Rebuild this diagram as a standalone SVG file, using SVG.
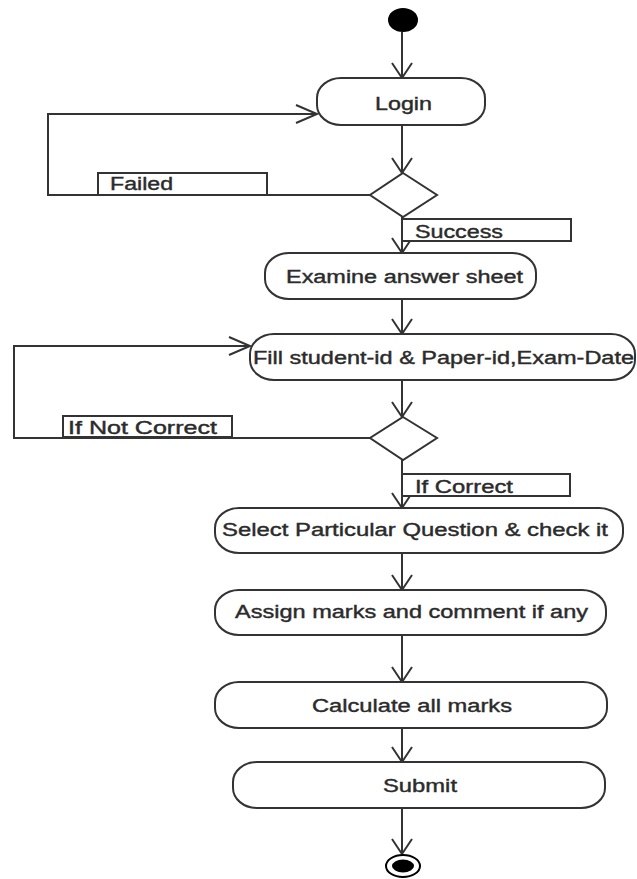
<svg xmlns="http://www.w3.org/2000/svg" width="637" height="879" viewBox="0 0 637 879">
  <style>
    .node { fill: #ffffff; stroke: #333333; stroke-width: 2; }
    .decision { fill: #ffffff; stroke: #333333; stroke-width: 2; }
    .label-box { fill: #ffffff; stroke: #333333; stroke-width: 2; }
    .txt { font-family: "Liberation Sans", Arial, sans-serif; font-size: 18px; fill: #2b2b2b; stroke: #2b2b2b; stroke-width: 0.4; }
    .flow { fill: none; stroke: #333333; stroke-width: 2; }
    .down { marker-end: url(#arrowV); }
    .side { marker-end: url(#arrowH); }
  </style>
  <defs>
    <marker id="arrowV" markerUnits="userSpaceOnUse" markerWidth="40" markerHeight="40" viewBox="-20 -20 40 40" refX="0" refY="0" orient="auto">
      <path d="M -15 -10 L 0 0 L -15 10" fill="none" stroke="#333333" stroke-width="2"/>
    </marker>
    <marker id="arrowH" markerUnits="userSpaceOnUse" markerWidth="50" markerHeight="40" viewBox="-25 -20 50 40" refX="0" refY="0" orient="auto">
      <path d="M -21 -9 L 0 0 L -21 9" fill="none" stroke="#333333" stroke-width="2"/>
    </marker>
  </defs>

  <rect width="637" height="879" fill="#ffffff"/>

  <!-- connectors -->
  <g id="connectors">
    <path class="flow down" d="M 402 32 L 402 78"/>
    <path class="flow down" d="M 402 125 L 402 173"/>
    <path class="flow side" d="M 370 195 L 48 195 L 48 114 L 317 114"/>
    <path class="flow down" d="M 402 217 L 402 253"/>
    <path class="flow down" d="M 402 299 L 402 334"/>
    <path class="flow down" d="M 402 380 L 402 417"/>
    <path class="flow side" d="M 370 438 L 14 438 L 14 346 L 250 346"/>
    <path class="flow down" d="M 402 460 L 402 508"/>
    <path class="flow down" d="M 402 553 L 402 590"/>
    <path class="flow down" d="M 402 635 L 402 682"/>
    <path class="flow down" d="M 402 728 L 402 762"/>
    <path class="flow down" d="M 402 808 L 402 854"/>

    <!-- guard labels -->
    <g id="guard-failed">
      <rect class="label-box" x="98" y="173" width="169" height="22"/>
      <text class="txt" x="110" y="190" textLength="63" lengthAdjust="spacingAndGlyphs">Failed</text>
    </g>
    <g id="guard-success">
      <rect class="label-box" x="402" y="219" width="169" height="22"/>
      <text class="txt" x="415" y="238" textLength="88" lengthAdjust="spacingAndGlyphs">Success</text>
    </g>
    <g id="guard-not-correct">
      <rect class="label-box" x="63" y="416" width="169" height="21"/>
      <text class="txt" x="68" y="434" textLength="149" lengthAdjust="spacingAndGlyphs">If Not Correct</text>
    </g>
    <g id="guard-correct">
      <rect class="label-box" x="402" y="474" width="168" height="22"/>
      <text class="txt" x="415" y="493" textLength="98" lengthAdjust="spacingAndGlyphs">If Correct</text>
    </g>
  </g>

  <!-- initial node -->
  <g id="start">
    <ellipse cx="403" cy="20" rx="15" ry="12" fill="#000000"/>
  </g>

  <g id="login">
    <rect class="node" x="317" y="78" width="168" height="47" rx="24" ry="20"/>
    <text class="txt" x="375" y="110" textLength="57" lengthAdjust="spacingAndGlyphs">Login</text>
  </g>

  <g id="decision-login">
    <polygon class="decision" points="403,173 437,195 403,217 370,195"/>
  </g>

  <g id="examine">
    <rect class="node" x="265" y="253" width="271" height="46" rx="24" ry="20"/>
    <text class="txt" x="286" y="283" textLength="237" lengthAdjust="spacingAndGlyphs">Examine answer sheet</text>
  </g>

  <g id="fill-details">
    <rect class="node" x="250" y="334" width="385" height="46" rx="24" ry="20"/>
    <text class="txt" x="253" y="364" textLength="381" lengthAdjust="spacingAndGlyphs">Fill student-id &amp; Paper-id,Exam-Date</text>
  </g>

  <g id="decision-details">
    <polygon class="decision" points="403,417 437,438 403,460 370,438"/>
  </g>

  <g id="select-question">
    <rect class="node" x="215" y="508" width="408" height="45" rx="24" ry="20"/>
    <text class="txt" x="222" y="536" textLength="386" lengthAdjust="spacingAndGlyphs">Select Particular Question &amp; check it</text>
  </g>

  <g id="assign-marks">
    <rect class="node" x="215" y="590" width="391" height="45" rx="24" ry="20"/>
    <text class="txt" x="235" y="618" textLength="353" lengthAdjust="spacingAndGlyphs">Assign marks and comment if any</text>
  </g>

  <g id="calculate">
    <rect class="node" x="215" y="682" width="392" height="46" rx="24" ry="20"/>
    <text class="txt" x="312" y="712" textLength="200" lengthAdjust="spacingAndGlyphs">Calculate all marks</text>
  </g>

  <g id="submit">
    <rect class="node" x="233" y="762" width="372" height="46" rx="24" ry="20"/>
    <text class="txt" x="383" y="792" textLength="74" lengthAdjust="spacingAndGlyphs">Submit</text>
  </g>

  <!-- final node -->
  <g id="end">
    <ellipse cx="403" cy="866" rx="17" ry="11" fill="#ffffff" stroke="#000000" stroke-width="2"/>
    <ellipse cx="403" cy="866" rx="11" ry="6.5" fill="#000000"/>
  </g>
</svg>
